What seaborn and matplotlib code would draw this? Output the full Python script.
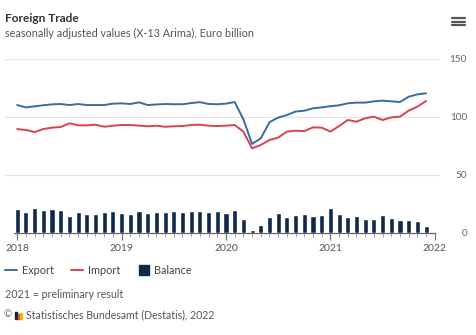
import matplotlib
matplotlib.use("Agg")
import matplotlib.pyplot as plt
from matplotlib.lines import Line2D
from matplotlib.patches import Rectangle
import seaborn as sns
import pandas as pd
import numpy as np

# ---- data (monthly, Jan 2018 .. Dec 2021) ----
months = pd.date_range("2018-01-01", "2021-12-01", freq="MS")
export = [110.3, 108.3, 109.2, 110.1, 110.9, 111.2, 110.3, 111.2, 110.3, 110.3, 110.3, 111.5,
          111.8, 111.2, 112.6, 110.3, 110.8, 111.2, 111.0, 111.0, 112.0, 112.8, 111.2, 111.0,
          111.5, 112.9, 98.0, 76.8, 81.6, 95.5, 99.5, 101.7, 104.7, 105.4, 107.5, 108.3,
          109.3, 110.1, 111.8, 112.4, 112.4, 113.5, 114.1, 113.5, 112.9, 117.5, 119.5, 120.4]
imports = [89.6, 88.8, 87.0, 89.6, 90.8, 91.4, 94.6, 92.8, 92.8, 93.4, 91.6, 92.5,
           93.1, 93.1, 92.5, 92.0, 92.5, 91.6, 92.0, 92.2, 93.1, 93.4, 92.5, 92.2,
           92.5, 93.1, 87.4, 73.0, 75.9, 80.2, 82.2, 87.4, 88.2, 87.8, 91.1, 90.8,
           87.4, 92.2, 97.4, 96.0, 98.9, 100.3, 97.4, 99.7, 100.3, 105.5, 108.9, 113.8]
balance = [20.7, 18.4, 21.5, 19.5, 20.5, 19.5, 15.0, 17.8, 16.7, 16.7, 17.8, 18.7,
           17.5, 16.0, 19.0, 17.0, 18.0, 17.8, 18.7, 17.8, 18.7, 18.7, 17.8, 18.7,
           17.2, 19.8, 12.0, 2.6, 7.2, 13.5, 17.0, 14.0, 15.5, 16.0, 15.0, 15.5,
           21.3, 16.4, 13.5, 15.0, 12.0, 12.0, 15.5, 13.0, 11.5, 11.2, 10.0, 6.0]
year_labels = ["2018", "2019", "2020", "2021", "2022"]
y_ticks = [0, 50, 100, 150]

series_names = ["Export", "Import", "Balance"]
title = "Foreign Trade"
subtitle = "seasonally adjusted values (X-13 Arima), Euro billion"
note = "2021 = preliminary result"
source = "Statistisches Bundesamt (Destatis), 2022"

# ---- styling ----
sns.set_theme(style="white")
plt.rcParams["font.family"] = ["Lato", "DejaVu Sans"]

C_EXP = "#3b6c9e"
C_IMP = "#d8434f"
C_BAL = "#10294a"
W, H = 476, 335

idx = np.arange(len(months))
df = pd.DataFrame({"m": idx, "Export": export, "Import": imports, "Balance": balance})

fig = plt.figure(figsize=(W / 100, H / 100), dpi=100)
fig.patch.set_facecolor("white")
ax = fig.add_axes([5 / W, 1 - 233 / H, (440 - 5) / W, (233 - 59) / H])

sns.barplot(data=df, x="m", y="Balance", color=C_BAL, width=0.58,
            native_scale=True, ax=ax, saturation=1, zorder=3)
sns.lineplot(data=df, x="m", y="Export", color=C_EXP, lw=1.4, ax=ax, zorder=4)
sns.lineplot(data=df, x="m", y="Import", color=C_IMP, lw=1.4, ax=ax, zorder=4)

ax.set_xlim(-1.4, 48.6)
ax.set_ylim(0, 150)
ax.set_xlabel("")
ax.set_ylabel("")

# y axis on the right, grid
ax.yaxis.tick_right()
ax.set_yticks(y_ticks)
ax.set_yticklabels([str(v) for v in y_ticks])
ax.grid(axis="y", color="#e3e3e3", lw=0.9, zorder=0)
ax.grid(axis="x", visible=False)
ax.tick_params(axis="y", length=0, pad=19.5, labelsize=7.2, labelcolor="#666666")
for t in ax.get_yticklabels():
    t.set_ha("right")
ax.get_ygridlines()[0].set_visible(False)

# x axis
ax.set_xticks([0, 12, 24, 36, 48])
ax.set_xticklabels(year_labels)
ax.set_xticks(np.arange(0, 49), minor=True)
ax.tick_params(axis="x", which="major", length=5, width=0.9, color="#777777",
               labelsize=7.5, labelcolor="#555555", pad=3, bottom=True)
ax.tick_params(axis="x", which="minor", length=3, width=0.6, color="#999999", bottom=True)
for s in ["top", "left", "right"]:
    ax.spines[s].set_visible(False)
ax.spines["bottom"].set_color("#666666")
ax.spines["bottom"].set_linewidth(0.9)
ax.spines["bottom"].set_bounds(-0.4, 48)
ax.set_facecolor("white")

# titles
fig.text(5 / W, 1 - 18 / H, title, fontsize=8.6, fontweight="bold", color="#333333",
         ha="left", va="center")
fig.text(5 / W, 1 - 33 / H, subtitle, fontsize=7.8, color="#555555", ha="left", va="center")

# hamburger icon
for yy in (18, 21.5, 25):
    fig.add_artist(Line2D([452 / W, 465 / W], [1 - yy / H, 1 - yy / H],
                          color="#555555", lw=1.6, transform=fig.transFigure))

# legend
handles = [Line2D([], [], color=C_EXP, lw=1.4),
           Line2D([], [], color=C_IMP, lw=1.4),
           Line2D([], [], color=C_BAL, marker="s", ls="none", markersize=7)]
leg = fig.legend(handles, series_names, loc="center left",
                 bbox_to_anchor=(5 / W, 1 - 270 / H), ncol=3, frameon=False,
                 fontsize=7.8, handlelength=1.1, handletextpad=0.45, columnspacing=1.6,
                 borderpad=0, borderaxespad=0, labelcolor="#444444")

fig.text(5 / W, 1 - 294 / H, note, fontsize=7.7, color="#555555", ha="left", va="center")
fig.text(4 / W, 1 - 315 / H, "©", fontsize=7, color="#777777", ha="left", va="center")
# small logo bars
for i, (c, h) in enumerate([("#222222", 7), ("#d8434f", 5), ("#e6b800", 6)]):
    fig.add_artist(Rectangle(((15 + i * 2.6) / W, 1 - 319 / H), 2 / W, h / H,
                             color=c, transform=fig.transFigure))
fig.text(26 / W, 1 - 315 / H, source, fontsize=7.6, color="#555555", ha="left", va="center")

fig.savefig("out.png", dpi=100, facecolor="white")
